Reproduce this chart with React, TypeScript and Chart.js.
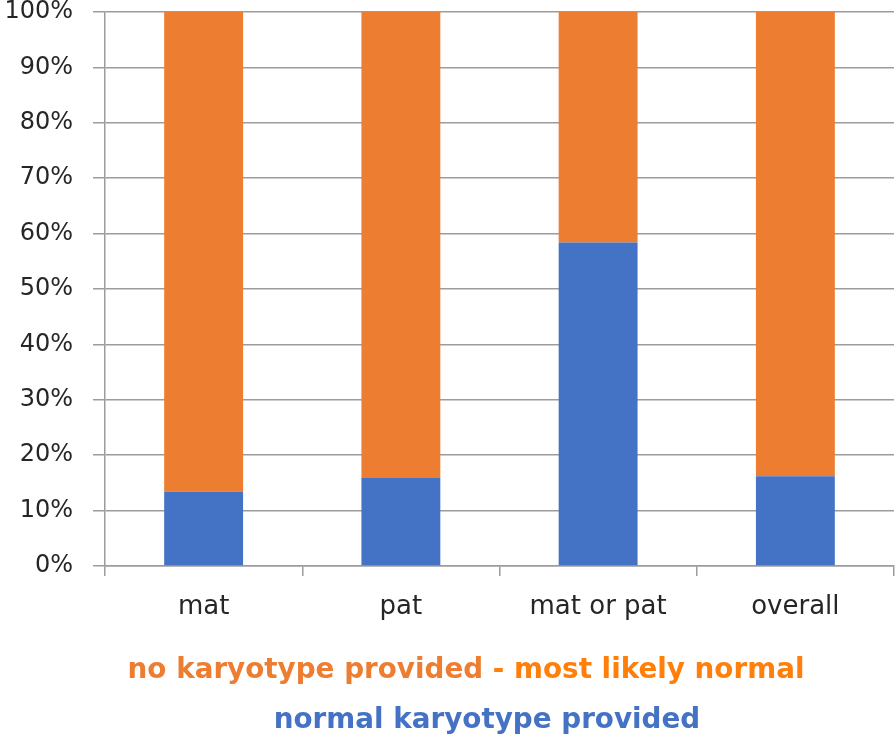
import React, { useEffect, useRef } from "react";
import { Chart, registerables } from "chart.js";

Chart.register(...registerables);

const categories = ["mat", "pat", "mat or pat", "overall"];
const normalProvided = [13.4, 15.9, 58.4, 16.2];
const noKaryotype = [86.6, 84.1, 41.6, 83.8];
const yTickValues = [0, 10, 20, 30, 40, 50, 60, 70, 80, 90, 100];

const legendLine1a = "no karyotype provided";
const legendLine1b = " - most likely normal";
const legendLine2 = "normal karyotype provided";

const BLUE = "#4472C4";
const ORANGE = "#ED7D31";
const ORANGE_BRIGHT = "#FF7F0A";
const GRID = "#9C9C9C";

const legendPlugin = {
  id: "bottomLegendText",
  afterDraw(chart: any) {
    const ctx = chart.ctx;
    ctx.save();
    ctx.font = "bold 27.8px 'DejaVu Sans'";
    ctx.textBaseline = "alphabetic";
    ctx.textAlign = "left";
    const wA = ctx.measureText(legendLine1a).width;
    const wB = ctx.measureText(legendLine1b).width;
    const cx1 = 466;
    const x1 = cx1 - (wA + wB) / 2;
    ctx.fillStyle = ORANGE;
    ctx.fillText(legendLine1a, x1, 678);
    ctx.fillStyle = ORANGE_BRIGHT;
    ctx.fillText(legendLine1b, x1 + wA, 678);
    ctx.textAlign = "center";
    ctx.fillStyle = BLUE;
    ctx.fillText(legendLine2, 487, 728);
    ctx.restore();
  },
};

export default function App() {
  const ref = useRef<HTMLCanvasElement | null>(null);
  useEffect(() => {
    if (!ref.current) return;
    const chart = new Chart(ref.current, {
      type: "bar",
      data: {
        labels: categories,
        datasets: [
          {
            label: "normal karyotype provided",
            data: normalProvided,
            backgroundColor: BLUE,
            borderWidth: 0,
            barPercentage: 0.4,
            categoryPercentage: 1,
          },
          {
            label: "no karyotype provided - most likely normal",
            data: noKaryotype,
            backgroundColor: ORANGE,
            borderWidth: 0,
            barPercentage: 0.4,
            categoryPercentage: 1,
          },
        ],
      },
      options: {
        responsive: false,
        animation: false,
        layout: { padding: { top: 12, right: 2, left: 0, bottom: 0 } },
        plugins: {
          legend: { display: false },
          tooltip: { enabled: false },
          title: { display: false },
        },
        scales: {
          x: {
            stacked: true,
            grid: {
              display: true,
              drawOnChartArea: false,
              drawTicks: true,
              tickLength: 10,
              color: GRID,
              lineWidth: 1.5,
              offset: true,
            },
            border: { display: true, color: GRID, width: 1.5 },
            ticks: {
              color: "#262626",
              font: { family: "'DejaVu Sans'", size: 26 },
              padding: 16,
              maxRotation: 0,
            },
            afterFit(scale: any) {
              scale.height = 171;
              scale.paddingLeft = 0;
              scale.paddingRight = 0;
            },
          },
          y: {
            stacked: true,
            min: 0,
            max: 100,
            afterBuildTicks(scale: any) {
              scale.ticks = yTickValues.map((v) => ({ value: v }));
            },
            grid: {
              color: GRID,
              lineWidth: 1.5,
              tickLength: 12,
              drawTicks: true,
            },
            border: { display: true, color: GRID, width: 1.5 },
            ticks: {
              color: "#262626",
              font: { family: "'DejaVu Sans'", size: 24 },
              padding: 20,
              callback: (v: any) => v + "%",
            },
            afterFit(scale: any) {
              scale.width = 105;
              scale.paddingTop = 0;
              scale.paddingBottom = 0;
            },
          },
        },
      },
      plugins: [legendPlugin],
    });
    return () => chart.destroy();
  }, []);
  return (
    <div style={{ position: "fixed", left: 0, top: 0, width: 896, height: 737, background: "#fff" }}>
      <canvas ref={ref} width={896} height={737} style={{ width: 896, height: 737, display: "block" }} />
    </div>
  );
}
